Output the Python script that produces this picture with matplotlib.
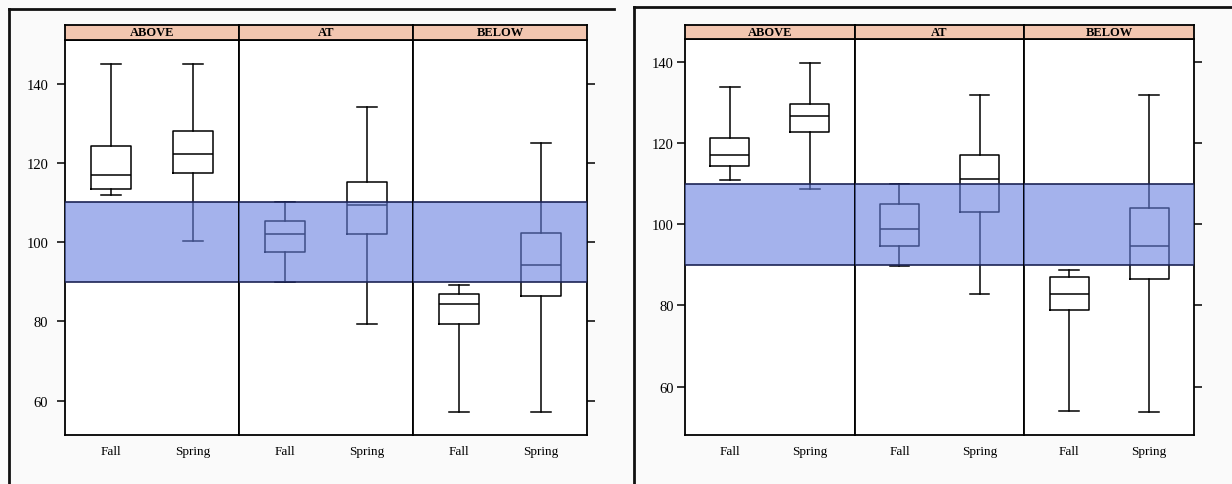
import matplotlib
matplotlib.use('Agg')
import matplotlib.pyplot as plt
from matplotlib.lines import Line2D

plt.rcParams['font.family'] = ['Liberation Serif', 'DejaVu Serif']

groups = ['ABOVE', 'AT', 'BELOW']
seasons = ['Fall', 'Spring']
band = (90, 110)
yticks = [60, 80, 100, 120, 140]

# each box: whisker low, q1, median, q3, whisker high
left_boxes = {
    'ABOVE': [[111.9, 113.3, 116.8, 124.2, 145.0], [100.2, 117.4, 122.1, 128.1, 145.0]],
    'AT':    [[90.0, 97.6, 102.1, 105.3, 110.0], [79.4, 102.0, 109.3, 115.2, 134.0]],
    'BELOW': [[57.1, 79.4, 84.3, 86.9, 89.2], [57.2, 86.4, 94.1, 102.2, 125.0]],
}
right_boxes = {
    'ABOVE': [[111.0, 114.4, 117.1, 121.2, 133.7], [108.7, 122.8, 126.7, 129.7, 139.7]],
    'AT':    [[89.8, 94.7, 98.9, 104.9, 110.0], [82.9, 103.0, 111.2, 117.0, 131.8]],
    'BELOW': [[54.0, 78.8, 82.9, 87.0, 88.8], [53.7, 86.5, 94.7, 103.9, 131.8]],
}

W, H = 1232, 485
fig = plt.figure(figsize=(W / 100, H / 100), dpi=100)
fig.patch.set_facecolor('#fafafa')


def px(x0, y0, w, h):
    # pixel box (from top-left) -> figure fraction rect
    return [x0 / W, (H - y0 - h) / H, w / W, h / H]


def panel(boxes, x0, x1, strip_top, plot_top, plot_bot, ylim, lab_pad):
    fw = (x1 - x0) / 3.0
    for i, g in enumerate(groups):
        ax = fig.add_axes(px(x0 + i * fw, plot_top, fw, plot_bot - plot_top))
        stats = []
        for s, v in zip(seasons, boxes[g]):
            stats.append(dict(label=s, whislo=v[0], q1=v[1], med=v[2], q3=v[3], whishi=v[4], fliers=[]))
        ax.bxp(stats, positions=[1, 2], widths=0.49, showfliers=False,
               boxprops=dict(color='black', lw=1.1),
               whiskerprops=dict(color='black', lw=1.1),
               capprops=dict(color='black', lw=1.1),
               medianprops=dict(color='black', lw=1.1), zorder=2)
        ax.axhspan(band[0], band[1], color='#6780e0', alpha=0.6, lw=0, zorder=3)
        for b in band:
            ax.axhline(b, color='#1c2455', lw=1.2, zorder=4)
        ax.set_xlim(0.44, 2.56)
        ax.set_ylim(*ylim)
        ax.set_facecolor('white')
        for sp in ax.spines.values():
            sp.set_linewidth(1.3)
        ax.tick_params(axis='x', length=0, pad=7, labelsize=9.5)
        ax.set_yticks(yticks)
        if i == 0:
            ax.tick_params(axis='y', direction='out', length=6, width=1.1, pad=lab_pad, labelsize=10.5)
        elif i == 2:
            ax.yaxis.tick_right()
            ax.tick_params(axis='y', direction='out', length=6, width=1.1, labelright=False)
        else:
            ax.tick_params(axis='y', length=0, labelleft=False)

        sax = fig.add_axes(px(x0 + i * fw, strip_top, fw, plot_top - strip_top))
        sax.set_facecolor('#f2c6b0')
        sax.set_xticks([])
        sax.set_yticks([])
        for sp in sax.spines.values():
            sp.set_linewidth(1.3)
        sax.text(0.5, 0.5, g, ha='center', va='center', fontsize=9, fontweight='bold',
                 transform=sax.transAxes)


panel(left_boxes, 65, 587, 26, 41, 436, (51.3, 151.0), 6)
panel(right_boxes, 685, 1194, 26, 40, 436, (48.1, 145.6), 2)

# outer frames of the two scanned figures
def fline(xs, ys, lw=2.0):
    fig.add_artist(Line2D([x / W for x in xs], [1 - y / H for y in ys], color='#111111', lw=lw))

fline([9, 9], [10, 485])
fline([9, 614], [10, 10])
fline([634, 634], [8, 485])
fline([634, 1232], [8, 8])

fig.savefig('out.png', dpi=100, facecolor=fig.get_facecolor())
